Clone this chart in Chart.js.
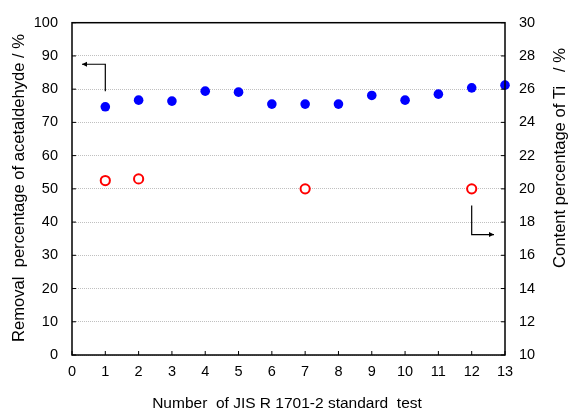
<!DOCTYPE html>
<html><head><meta charset="utf-8">
<script src="https://cdn.jsdelivr.net/npm/chart.js@4/dist/chart.umd.min.js"></script>
<style>html,body{margin:0;padding:0;background:#fff}#wrap{width:569px;height:417px}</style>
</head><body><div id="wrap"><canvas id="c" width="569" height="417"></canvas></div>
<script>
const testNumbers = [1,2,3,4,5,6,7,8,9,10,11,12,13];
const removalPct = [74.7,76.7,76.4,79.4,79.1,75.5,75.5,75.5,78.1,76.7,78.5,80.4,81.2];
const tiTests = [1,2,7,12];
const tiContent = [20.5,20.6,20.0,20.0];
const xTitle = 'Number  of JIS R 1701-2 standard  test';
const yLeftTitle = 'Removal  percentage of acetaldehyde / %';
const yRightTitle = 'Content percentage of Ti   / %';
// arrow guides in data units: [xStart, yStart, xCorner, yCorner, xEnd, yEnd]
const leftArrow = [1, 79.4, 1, 87.5, 0.3, 87.5];
const rightArrow = [12, 19.0, 12, 17.25, 12.67, 17.25];

const FONT = '"Liberation Sans", Arial, sans-serif';

const framePlugin = {
  id: 'frame',
  afterDatasetsDraw(chart) {
    const {ctx, chartArea: a, scales} = chart;
    ctx.save();
    ctx.strokeStyle = '#000';
    ctx.lineWidth = 1.5;
    ctx.strokeRect(a.left, a.top, a.right - a.left, a.bottom - a.top);
    ctx.lineWidth = 1;
    scales.x.ticks.forEach(t => {
      const px = scales.x.getPixelForValue(t.value);
      ctx.beginPath(); ctx.moveTo(px, a.bottom); ctx.lineTo(px, a.bottom - 4); ctx.stroke();
    });
    scales.y.ticks.forEach(t => {
      const py = scales.y.getPixelForValue(t.value);
      ctx.beginPath(); ctx.moveTo(a.left, py); ctx.lineTo(a.left + 4, py); ctx.stroke();
    });
    scales.y2.ticks.forEach(t => {
      const py = scales.y2.getPixelForValue(t.value);
      ctx.beginPath(); ctx.moveTo(a.right, py); ctx.lineTo(a.right - 4, py); ctx.stroke();
    });
    function arrow(arr, ys) {
      const p = (i) => [scales.x.getPixelForValue(arr[i]), ys.getPixelForValue(arr[i+1])];
      const s = p(0), c = p(2), e = p(4);
      ctx.lineWidth = 1.2;
      ctx.beginPath(); ctx.moveTo(s[0], s[1]); ctx.lineTo(c[0], c[1]); ctx.lineTo(e[0], e[1]); ctx.stroke();
      const dir = Math.sign(e[0] - c[0]);
      ctx.beginPath();
      ctx.moveTo(e[0], e[1]);
      ctx.lineTo(e[0] - dir * 5, e[1] - 2.5);
      ctx.lineTo(e[0] - dir * 5, e[1] + 2.5);
      ctx.closePath(); ctx.fillStyle = '#000'; ctx.fill();
    }
    arrow(leftArrow, scales.y);
    arrow(rightArrow, scales.y2);
    ctx.fillStyle = '#000';
    ctx.textAlign = 'center'; ctx.textBaseline = 'middle';
    ctx.font = '15.5px ' + FONT;
    ctx.fillText(xTitle, 287, 404);
    ctx.font = '16.6px ' + FONT;
    ctx.save(); ctx.translate(19, 188); ctx.rotate(-Math.PI / 2); ctx.fillText(yLeftTitle, 0, 0); ctx.restore();
    ctx.save(); ctx.translate(560, 158); ctx.rotate(-Math.PI / 2); ctx.fillText(yRightTitle, 0, 0); ctx.restore();
    ctx.restore();
  }
};

new Chart(document.getElementById('c'), {
  type: 'scatter',
  data: {
    datasets: [
      {
        label: 'Removal',
        data: testNumbers.map((x, i) => ({x, y: removalPct[i]})),
        yAxisID: 'y',
        backgroundColor: '#0000ff', borderColor: '#0000ff',
        pointRadius: 4.8, pointHoverRadius: 4.8, borderWidth: 0
      },
      {
        label: 'Ti',
        data: tiTests.map((x, i) => ({x, y: tiContent[i]})),
        yAxisID: 'y2',
        backgroundColor: '#ffffff', borderColor: '#ff0000',
        pointRadius: 4.6, pointHoverRadius: 4.6, pointBorderWidth: 2, borderWidth: 2
      }
    ]
  },
  plugins: [framePlugin],
  options: {
    responsive: false,
    animation: false,
    clip: false,
    layout: { padding: { top: 15, left: 0, right: 0, bottom: 0 } },
    plugins: { legend: { display: false }, tooltip: { enabled: false } },
    scales: {
      x: {
        type: 'linear', min: 0, max: 13,
        ticks: { stepSize: 1, color: '#000', font: { size: 14.5, family: FONT }, padding: 8, maxRotation: 0 },
        grid: { display: false, drawTicks: false },
        border: { display: false },
        afterFit(s) { s.height = 62; }
      },
      y: {
        position: 'left', min: 0, max: 100,
        ticks: { stepSize: 10, color: '#000', font: { size: 14.5, family: FONT }, padding: 14 },
        grid: { color: '#c0c0c0', drawTicks: false, lineWidth: 1 },
        border: { display: false, dash: [1, 1] },
        afterFit(s) { s.width = 72; }
      },
      y2: {
        position: 'right', min: 10, max: 30,
        ticks: { stepSize: 2, color: '#000', font: { size: 14.5, family: FONT }, padding: 14 },
        grid: { display: false, drawTicks: false },
        border: { display: false },
        afterFit(s) { s.width = 64; }
      }
    }
  }
});
</script></body></html>
